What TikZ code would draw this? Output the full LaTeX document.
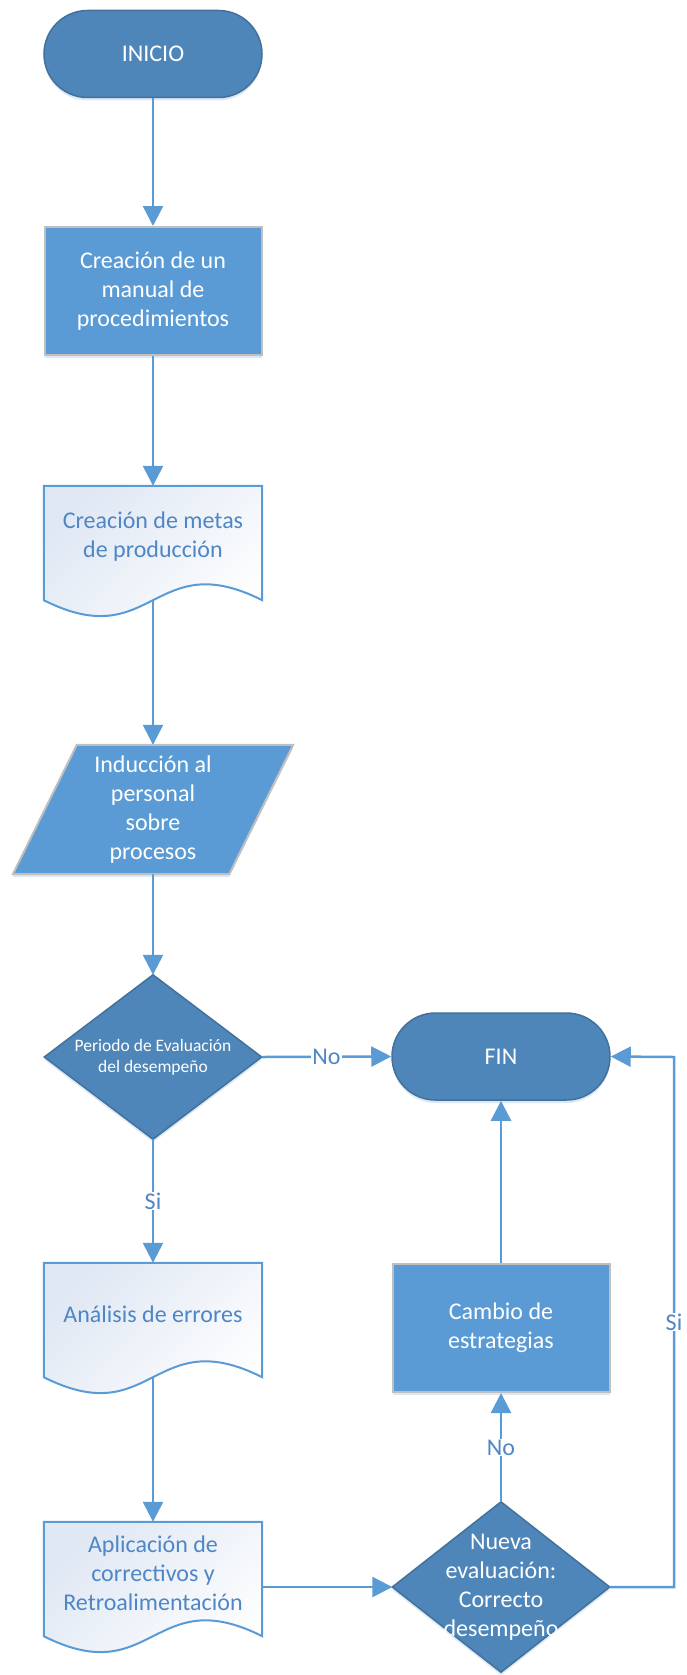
\documentclass[tikz,border=0pt]{standalone}
\usepackage{fontspec}
\setmainfont{Carlito}
\usetikzlibrary{arrows.meta,shapes.misc,backgrounds,shadows}
\definecolor{termfill}{HTML}{4E86B9}
\definecolor{termline}{HTML}{41719C}
\definecolor{boxfill}{HTML}{5B9BD5}
\definecolor{boxline}{HTML}{BFBFBF}
\definecolor{arrowc}{HTML}{5B9BD5}
\definecolor{doctext}{HTML}{4F86C6}
\definecolor{docline}{HTML}{5B9BD5}
\definecolor{docshade}{HTML}{E0E8F4}
\definecolor{glow}{HTML}{D3E2F2}
\tikzset{
  bigtext/.style={font=\fontsize{24}{29}\selectfont, align=center},
  glowshadow/.style={general shadow={shadow xshift=0pt, shadow yshift=-3pt, fill=glow, opacity=0.8}},
  terminal/.style={rounded rectangle, draw=termline, line width=1.5pt, fill=termfill, text=white,
    minimum width=218pt, minimum height=87pt, inner sep=0pt, bigtext, glowshadow},
  procbox/.style={rectangle, draw=boxline, line width=2pt, fill=boxfill, text=white,
    minimum width=217pt, minimum height=128pt, inner sep=0pt, bigtext, glowshadow},
  docnode/.style={rectangle, minimum width=218pt, minimum height=102pt, inner sep=0pt, text=doctext, bigtext},
  docshape/.style={draw=docline, line width=2pt, top color=docshade, bottom color=white, shading angle=45},
  paranode/.style={rectangle, minimum width=280pt, minimum height=129pt, inner sep=0pt, text=white, bigtext},
  parashape/.style={draw=boxline, line width=2pt, fill=boxfill, glowshadow},
  decnode/.style={rectangle, inner sep=0pt, text=white, align=center},
  decshape/.style={draw=termline, line width=1.5pt, fill=termfill, glowshadow},
  conn/.style={draw=arrowc, line width=2.5pt, -{Triangle[length=20pt,width=20pt]}},
  lbl/.style={fill=white, inner sep=1pt, text=doctext, font=\fontsize{24}{29}\selectfont}
}
\begin{document}
\begin{tikzpicture}[x=1pt, y=-1pt]
\useasboundingbox (0,0) rectangle (687,1675);

\node[terminal] (ini) at (153,54) {INICIO};
\node[procbox] (b1) at (153,291) {Creación de un\\manual de\\procedimientos};
\node[docnode] (d1) at (153,537) {Creación de metas\\de producción};
\node[paranode] (pa) at (153,809.5) {Inducción al\\personal\\sobre\\procesos};
\node[decnode, minimum width=217pt, minimum height=164pt, font=\fontsize{17.5}{21}\selectfont] (q1) at (153,1057) {Periodo de Evaluación\\del desempeño};
\node[terminal] (fin) at (501,1056.5) {FIN};
\node[docnode] (d2) at (153,1314) {Análisis de errores};
\node[docnode] (d3) at (153,1573) {Aplicación de\\correctivos y\\Retroalimentación};
\node[procbox] (cb) at (501,1328) {Cambio de\\estrategias};
\node[decnode, minimum width=217pt, minimum height=170pt, bigtext] (q2) at (501,1587) {Nueva\\evaluación:\\Correcto\\desempeño};
\coordinate (rc) at (674,1057);

\begin{pgfonlayer}{background}
  \foreach \d in {d1,d2,d3}{
    \draw[docshape] (\d.north west) -- ([yshift=-12pt]\d.south west)
      .. controls ([yshift=-67pt]\d.south) and ([yshift=43pt]\d.south) .. ([yshift=-12pt]\d.south east)
      -- (\d.north east) -- cycle;
  }
  \draw[parashape] ([xshift=64pt]pa.north west) -- (pa.north east) -- ([xshift=-64pt]pa.south east) -- (pa.south west) -- cycle;
  \draw[decshape] (q1.north) -- (q1.east) -- (q1.south) -- (q1.west) -- cycle;
  \draw[decshape] (q2.north) -- (q2.east) -- (q2.south) -- (q2.west) -- cycle;
\end{pgfonlayer}

\draw[conn] (ini.south) -- (b1.north);
\draw[conn] (b1.south) -- (d1.north);
\draw[conn] ([yshift=-12pt]d1.south) -- (pa.north);
\draw[conn] (pa.south) -- (q1.north);
\draw[conn] (q1.east) -- node[lbl]{No} (fin.west);
\draw[conn] (q1.south) -- node[lbl]{Si} (d2.north);
\draw[conn] ([yshift=-12pt]d2.south) -- (d3.north);
\draw[conn] (d3.east |- q2.west) -- (q2.west);
\draw[conn] (q2.north) -- node[lbl]{No} (cb.south);
\draw[conn] (cb.north) -- (fin.south);
\draw[conn] (q2.east) -| (rc) node[lbl, pos=0.75]{Si} -- (fin.east);
\end{tikzpicture}
\end{document}
